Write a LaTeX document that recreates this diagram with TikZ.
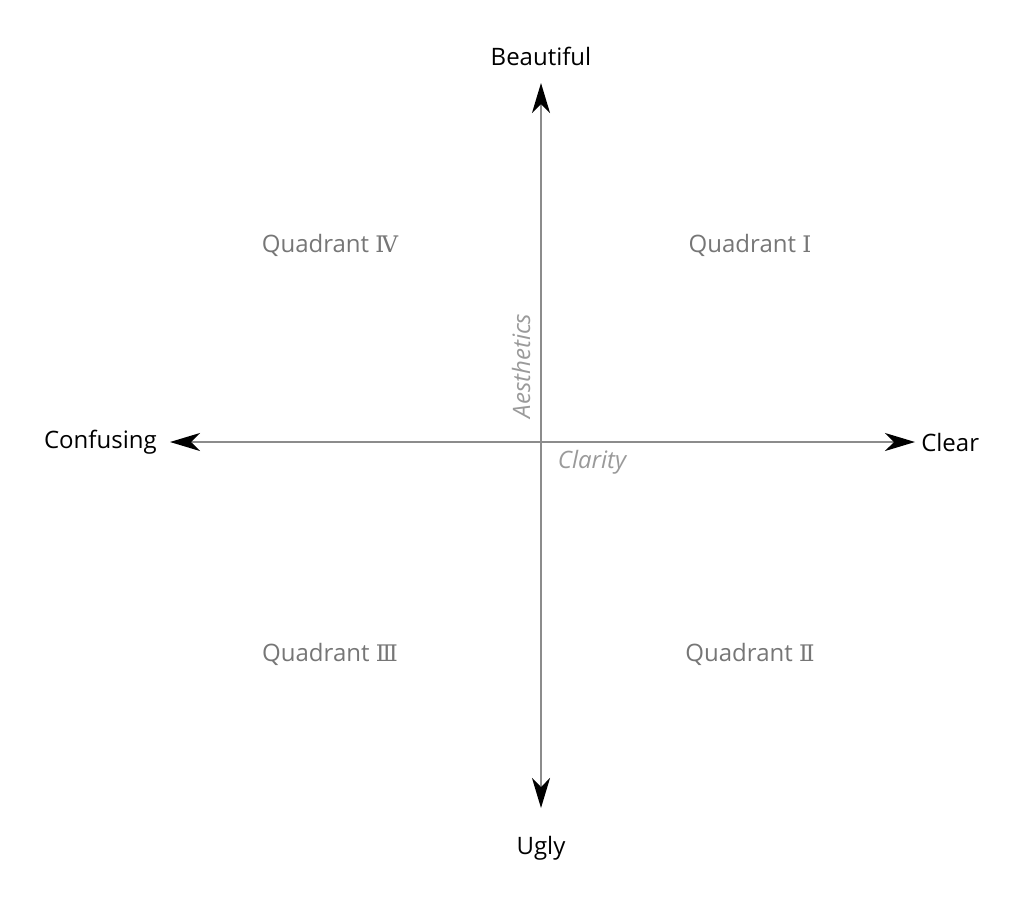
\documentclass[tikz,border=0pt]{standalone}
\usepackage{fontspec}
\setmainfont{Open Sans}
\newfontfamily\romfont[Scale=0.95]{DejaVu Serif}
\usetikzlibrary{arrows.meta}
\definecolor{axisgray}{HTML}{8C8C8C}
\definecolor{quadgray}{HTML}{767676}
\definecolor{axlabgray}{HTML}{9A9A9A}
\tikzset{
  axisline/.style={draw=axisgray, line width=1.125pt,
    {Stealth[black,length=22.5pt,width=13.5pt,inset=6.75pt]}-{Stealth[black,length=22.5pt,width=13.5pt,inset=6.75pt]}},
  polelabel/.style={font=\fontsize{18pt}{21pt}\selectfont, text=black, inner sep=0pt},
  quadlabel/.style={font=\fontsize{18pt}{21pt}\selectfont, text=quadgray, inner sep=0pt},
  axislabel/.style={font=\fontsize{18pt}{21pt}\selectfont\itshape, text=axlabgray, inner sep=0pt},
}
\begin{document}
\begin{tikzpicture}[x=0.75pt,y=-0.75pt]
\useasboundingbox (0,0) rectangle (1024,904);
\coordinate (top) at (541,83);
\coordinate (bot) at (541,808);
\coordinate (lft) at (170,442);
\coordinate (rgt) at (915,442);
\draw[axisline] (bot) -- (top);
\draw[axisline] (lft) -- (rgt);
\node[polelabel] (beautiful) at (541,56) {Beautiful};
\node[polelabel] (ugly) at (541,848) {Ugly};
\node[polelabel, anchor=east] (confusing) at (157,442) {Confusing};
\node[polelabel, anchor=west] (clear) at (921,442) {Clear};
\node[quadlabel] (q4) at (330,245) {Quadrant {\romfont Ⅳ}};
\node[quadlabel] (q1) at (750,245) {Quadrant {\romfont Ⅰ}};
\node[quadlabel] (q3) at (330,654) {Quadrant {\romfont Ⅲ}};
\node[quadlabel] (q2) at (750,654) {Quadrant {\romfont Ⅱ}};
\node[axislabel, rotate=90] (aes) at (521,366) {Aesthetics};
\node[axislabel] (clar) at (592,462) {Clarity};
\end{tikzpicture}
\end{document}
